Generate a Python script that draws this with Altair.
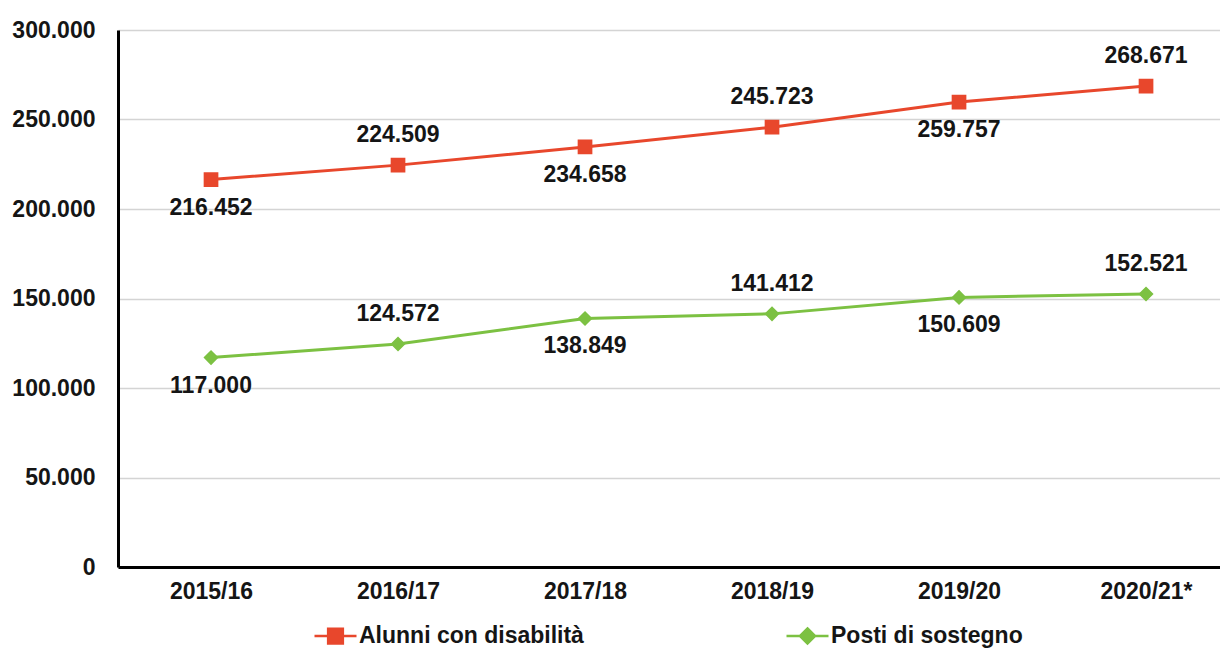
import altair as alt
import pandas as pd

years = ["2015/16", "2016/17", "2017/18", "2018/19", "2019/20", "2020/21*"]
alunni = [216452, 224509, 234658, 245723, 259757, 268671]
posti = [117000, 124572, 138849, 141412, 150609, 152521]
label_side = ["below", "above", "below", "above", "below", "above"]
series_names = ["Alunni con disabilità", "Posti di sostegno"]
colors = ["#E8472C", "#7CC142"]
y_ticks = [0, 50000, 100000, 150000, 200000, 250000, 300000]

square_path = "M-1,0H1M-0.35,-0.35H0.35V0.35H-0.35Z"
diamond_path = "M-1,0H1M0,-0.36L0.36,0L0,0.36L-0.36,0Z"
shapes = [square_path, diamond_path]

rows = []
for name, vals in zip(series_names, [alunni, posti]):
    for yr, v, s in zip(years, vals, label_side):
        rows.append({"anno": yr, "valore": v, "serie": name, "lato": s})
df = pd.DataFrame(rows)

FONT = "Liberation Sans"
TXT = "#151515"

x_enc = alt.X(
    "anno:O",
    sort=years,
    scale=alt.Scale(type="point", padding=0.4465, align=0.557),
    axis=alt.Axis(title=None, labelAngle=0, ticks=False, domainColor="black",
                  domainWidth=3, labelPadding=13, labelFont=FONT, labelFontSize=23,
                  labelFontWeight="bold", labelColor=TXT, grid=False),
)
y_enc = alt.Y(
    "valore:Q",
    scale=alt.Scale(domain=[0, 300000], nice=False),
    axis=alt.Axis(title=None, values=y_ticks, ticks=False, domainColor="black",
                  domainWidth=3, labelPadding=23, labelFont=FONT, labelFontSize=23,
                  labelFontWeight="bold", labelColor=TXT, grid=True,
                  gridColor="#d4d4d4", gridWidth=1.5,
                  labelExpr="replace(format(datum.value, ',d'), ',', '.')"),
)

leg = alt.Legend(
    title=None, orient="none", legendX=195, legendY=583, direction="horizontal",
    symbolSize=1764, labelFont=FONT, labelFontSize=23, labelFontWeight="bold",
    labelColor=TXT, columnPadding=197, labelOffset=1, labelLimit=500,
    symbolStrokeWidth=2.5, symbolOpacity=1,
)

color_enc = alt.Color("serie:N", scale=alt.Scale(domain=series_names, range=colors), legend=leg)
stroke_enc = alt.Stroke("serie:N", scale=alt.Scale(domain=series_names, range=colors), legend=leg)
shape_enc = alt.Shape("serie:N", scale=alt.Scale(domain=series_names, range=shapes), legend=leg)

base = alt.Chart(df)

lines = base.mark_line(strokeWidth=3).encode(
    x=x_enc, y=y_enc, color=color_enc, detail="serie:N",
)
points = base.mark_point(filled=True, opacity=1, size=1764, strokeWidth=0).encode(
    x=x_enc, y=y_enc, color=color_enc, stroke=stroke_enc, shape=shape_enc,
)

labels = base.transform_calculate(
    etichetta="replace(format(datum.valore, ',d'), ',', '.')"
)
text_style = dict(font=FONT, fontSize=23, fontWeight="bold", color=TXT)
below = labels.transform_filter("datum.lato == 'below'").mark_text(dy=28, **text_style).encode(
    x=x_enc, y=y_enc, text="etichetta:N")
above = labels.transform_filter("datum.lato == 'above'").mark_text(dy=-30, **text_style).encode(
    x=x_enc, y=y_enc, text="etichetta:N")

chart = alt.layer(lines, points, below, above).properties(
    width=1102,
    height=537,
    autosize=alt.AutoSizeParams(type="none"),
    padding={"left": 110, "top": 22, "right": 0, "bottom": 89},
    background="white",
).configure_view(stroke=None)

chart.save("out.html", embed_options={"renderer": "svg", "actions": False})
